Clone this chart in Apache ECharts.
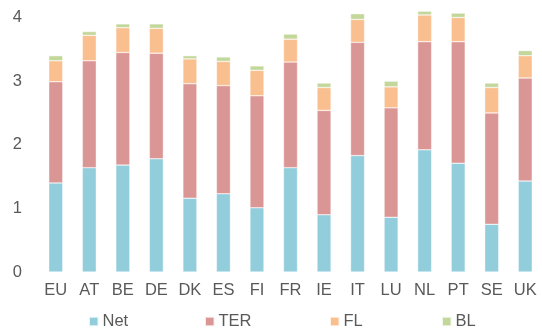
<!DOCTYPE html>
<html><head><meta charset="utf-8">
<script src="https://cdn.jsdelivr.net/npm/echarts@6/dist/echarts.min.js"></script>
<style>html,body{margin:0;padding:0;background:#fff}#c{width:542px;height:331px}</style>
</head><body><div id="c"></div>
<script>
var categories = ['EU','AT','BE','DE','DK','ES','FI','FR','IE','IT','LU','NL','PT','SE','UK'];
var netValues = [1.40,1.64,1.68,1.78,1.16,1.23,1.01,1.64,0.90,1.83,0.86,1.92,1.71,0.75,1.43];
var terValues = [1.59,1.68,1.77,1.66,1.80,1.70,1.76,1.66,1.64,1.78,1.72,1.70,1.91,1.75,1.62];
var flValues  = [0.33,0.40,0.39,0.39,0.39,0.38,0.40,0.36,0.36,0.36,0.33,0.42,0.38,0.40,0.35];
var blValues  = [0.08,0.06,0.06,0.07,0.05,0.07,0.07,0.08,0.07,0.09,0.09,0.06,0.07,0.07,0.08];
var seriesNames = ['Net','TER','FL','BL'];
var yTicks = [0,1,2,3,4];

var colors = ['#92CDDC','#DA9694','#FABF8F','#C4D79B'];
var font = 'Liberation Sans, Arial, sans-serif';
var dataSets = [netValues, terValues, flValues, blValues];
var legendLefts = [88, 204, 329, 441];

var chart = echarts.init(document.getElementById('c'), null, {renderer:'canvas'});
chart.setOption({
  animation:false,
  grid:{left:39, width:505, top:4.8, bottom:59},
  xAxis:{type:'category', data:categories,
    axisLine:{show:false}, axisTick:{show:false},
    axisLabel:{color:'#595959', fontSize:16.5, fontFamily:font, margin:10, interval:0}},
  yAxis:{type:'value', min:0, max:4.2, interval:1,
    axisLine:{show:false}, axisTick:{show:false}, splitLine:{show:false},
    axisLabel:{color:'#595959', fontSize:16.5, fontFamily:font, margin:17,
      formatter:function(v){return yTicks.indexOf(v)>=0 ? String(v) : '';}}},
  legend: seriesNames.map(function(n,i){
    return {data:[n], left:legendLefts[i], top:313, padding:0, itemWidth:9.5, itemHeight:9.5, itemGap:0,
      icon:'rect', textStyle:{color:'#595959', fontSize:16.5, fontFamily:font, padding:[0,0,0,-1]}};
  }),
  series: seriesNames.map(function(n,i){
    return {name:n, type:'bar', stack:'s', data:dataSets[i], barWidth:14,
      itemStyle:{color:colors[i], borderColor:'rgba(255,255,255,0.8)', borderWidth:0.5}};
  })
});
</script></body></html>
